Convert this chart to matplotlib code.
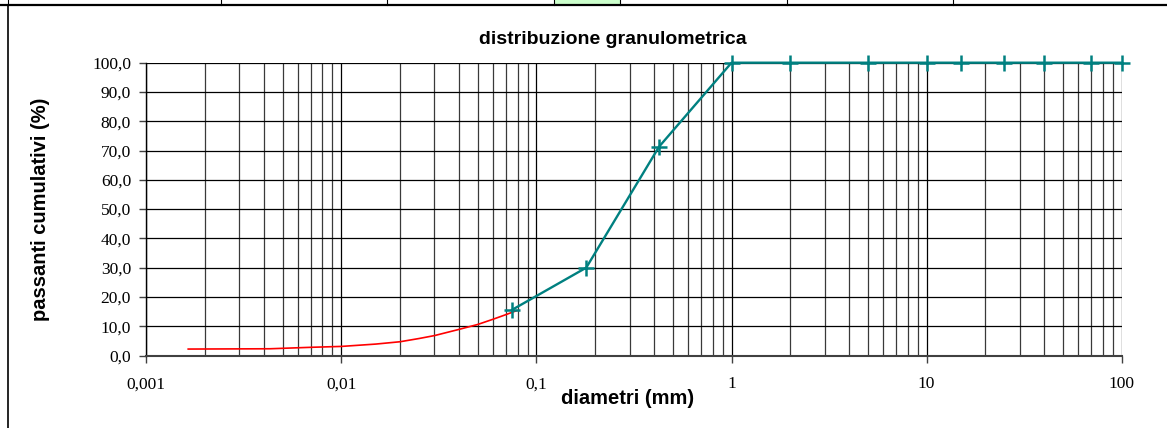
import matplotlib
matplotlib.use("Agg")
import matplotlib.pyplot as plt
from matplotlib.lines import Line2D
from matplotlib.patches import Rectangle
from matplotlib.ticker import FixedLocator, LogLocator, NullFormatter

# ---- data ----
sieve_d = [0.075, 0.18, 0.425, 1, 2, 5, 10, 15, 25, 40, 70, 100]
sieve_p = [15.6, 30.0, 71.3, 100, 100, 100, 100, 100, 100, 100, 100, 100]
sed_d = [0.00164, 0.0043, 0.007, 0.01, 0.015, 0.02, 0.025, 0.03, 0.04, 0.05, 0.06, 0.07, 0.079]
sed_p = [2.2, 2.3, 2.8, 3.1, 3.9, 4.7, 5.8, 6.8, 8.9, 10.6, 12.4, 14.0, 15.3]
x_ticks = [0.001, 0.01, 0.1, 1, 10, 100]
x_labels = ["0,001", "0,01", "0,1", "1", "10", "100"]
y_ticks = [0, 10, 20, 30, 40, 50, 60, 70, 80, 90, 100]
y_labels = ["%.1f" % v for v in y_ticks]
y_labels = [s.replace(".", ",") for s in y_labels]
title = "distribuzione granulometrica"
xlabel = "diametri (mm)"
ylabel = "passanti cumulativi (%)"

W, H = 1167, 428
fig = plt.figure(figsize=(W / 100, H / 100), dpi=100)

def fx(px):
    return px / W

def fy(py):
    return 1 - py / H

# table strip / frame
for x0 in [8, 221, 387, 554, 620, 787, 953]:
    fig.add_artist(Line2D([fx(x0), fx(x0)], [fy(0), fy(5)], color="black", lw=0.8))
fig.add_artist(Rectangle((fx(555), fy(5)), fx(620) - fx(555), fy(0) - fy(5),
                         facecolor="#ccffcc", edgecolor="none", transform=fig.transFigure))
fig.add_artist(Line2D([0, 1], [fy(5), fy(5)], color="black", lw=1.6))
fig.add_artist(Line2D([fx(8), fx(8)], [fy(5), 0], color="black", lw=1.2))

left, right = 146.3, 1121.7
top, bottom = 62.7, 355.5
ax = fig.add_axes([fx(left), fy(bottom), fx(right) - fx(left), fy(top) - fy(bottom)])
ax.set_xscale("log")
ax.set_xlim(0.001, 100)
ax.set_ylim(0, 100)

# grid
ax.xaxis.set_major_locator(FixedLocator(x_ticks))
ax.xaxis.set_minor_locator(LogLocator(base=10, subs=[2, 3, 4, 5, 6, 7, 8, 9], numticks=20))
ax.xaxis.set_minor_formatter(NullFormatter())
ax.set_xticklabels(x_labels)
ax.set_yticks(y_ticks)
ax.set_yticklabels(y_labels)
ax.grid(True, which="major", axis="both", color="black", lw=0.9)
ax.grid(True, which="minor", axis="x", color="#3a3a3a", lw=0.9)
ax.set_axisbelow(True)

for s in ["top", "right"]:
    ax.spines[s].set_visible(False)
ax.spines["left"].set_color("black")
ax.spines["left"].set_linewidth(1.0)
ax.spines["bottom"].set_color("#404040")
ax.spines["bottom"].set_linewidth(1.5)

ax.tick_params(axis="both", which="major", direction="out", length=5, width=1,
               color="#404040", labelsize=12.5, labelfontfamily="Liberation Serif")
ax.tick_params(axis="x", which="major", pad=10)
ax.tick_params(axis="y", which="major", pad=6)
ax.tick_params(axis="x", which="minor", length=0)

ax.plot(sed_d, sed_p, color="red", lw=1.2, zorder=3)
ax.plot(sieve_d, sieve_p, color="#008080", lw=1.7, marker="+", markersize=11,
        markeredgewidth=1.8, zorder=4, clip_on=False)

fig.text(fx(613), fy(40), title, ha="center", va="center",
         fontsize=14, fontweight="bold", family="Liberation Sans")
fig.text(fx(628), fy(398), xlabel, ha="center", va="center",
         fontsize=14.5, fontweight="bold", family="Liberation Sans")
fig.text(fx(41), fy(209), ylabel, ha="center", va="center", rotation=90,
         fontsize=14.5, fontweight="bold", family="Liberation Sans")

fig.savefig("out.png", dpi=100)
